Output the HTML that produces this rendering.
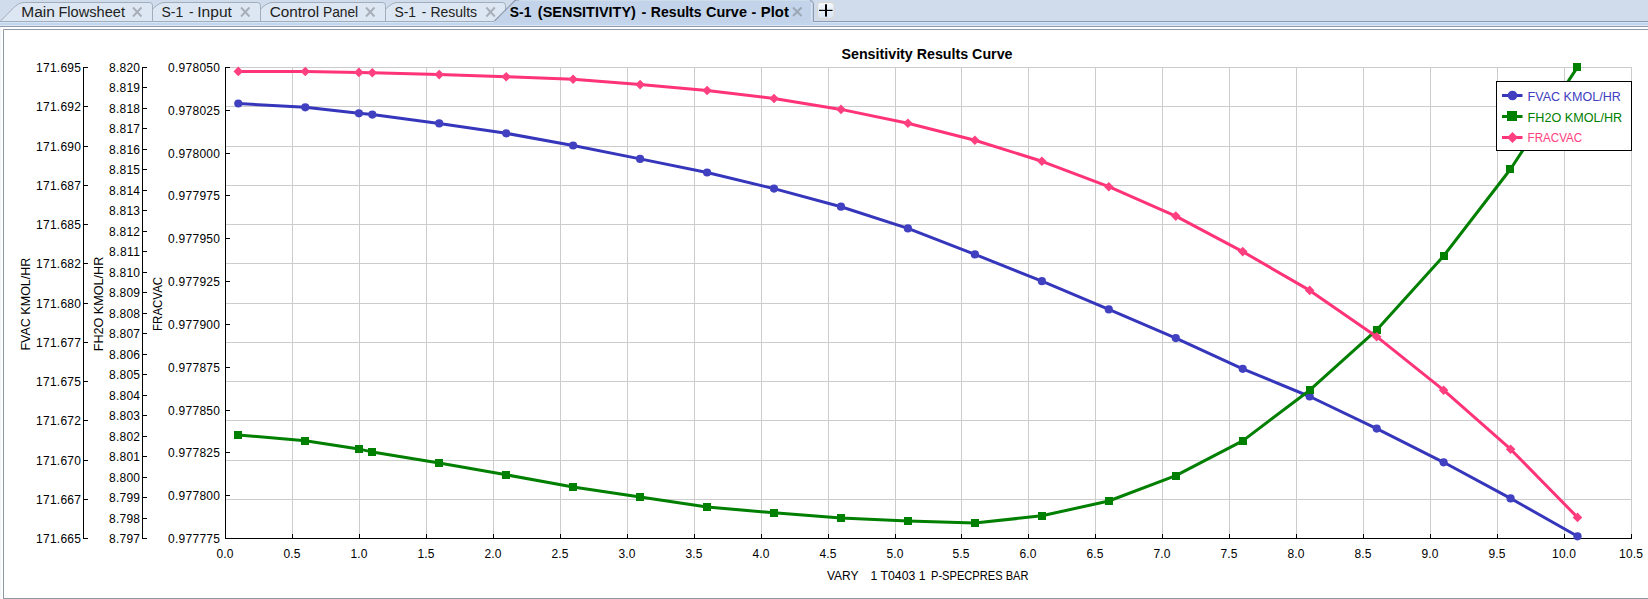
<!DOCTYPE html><html><head><meta charset="utf-8"><title>Sensitivity Results Curve</title><style>
html,body{margin:0;padding:0;width:1648px;height:599px;overflow:hidden;background:#fff}
svg{position:absolute;left:0;top:0;display:block}
text{font-family:"Liberation Sans", sans-serif}
</style></head><body>
<svg width="1648" height="599" viewBox="0 0 1648 599">
<rect x="0" y="0" width="1648" height="21" fill="#d0dcec"/>
<rect x="0" y="21" width="1648" height="1" fill="#8e9bae"/>
<rect x="0" y="22" width="1648" height="1" fill="#d6e5f5"/>
<rect x="0" y="23" width="1648" height="2" fill="#c2d7ee"/>
<rect x="0" y="25" width="1648" height="1" fill="#dfe8f2"/>
<rect x="0" y="26" width="1648" height="1" fill="#8e9bae"/>
<rect x="0" y="27" width="1648" height="572" fill="#ffffff"/>
<rect x="0" y="27" width="1" height="572" fill="#f3f5f8"/>
<rect x="1" y="27" width="1" height="572" fill="#f8f9fb"/>
<path d="M3.5 599 V29.5 H1648" fill="none" stroke="#8e99a8" stroke-width="1"/>
<rect x="3" y="598" width="1645" height="1" fill="#8e99a8"/>
<path d="M373.5 21.5 L384.5 10.5 C388.5 6.0 392.5 2.5 398.0 2.5 H502.5 Q505.5 2.5 505.5 5.5 V21.5 Z" fill="#dde7f3" stroke="#a2adbb" stroke-width="1"/>
<path d="M248.5 21.5 L259.5 10.5 C263.5 6.0 267.5 2.5 273.0 2.5 H382.5 Q385.5 2.5 385.5 5.5 V21.5 Z" fill="#dde7f3" stroke="#a2adbb" stroke-width="1"/>
<path d="M140.5 21.5 L151.5 10.5 C155.5 6.0 159.5 2.5 165.0 2.5 H257.5 Q260.5 2.5 260.5 5.5 V21.5 Z" fill="#dde7f3" stroke="#a2adbb" stroke-width="1"/>
<path d="M0.0 21.5 L11.0 10.5 C15.0 6.0 19.0 2.5 24.5 2.5 H149.5 Q152.5 2.5 152.5 5.5 V21.5 Z" fill="#dde7f3" stroke="#a2adbb" stroke-width="1"/>
<text x="21.29" y="17" font-size="15.4" fill="#222" textLength="33.59" lengthAdjust="spacingAndGlyphs">Main</text>
<text x="58.46" y="17" font-size="15.4" fill="#222" textLength="66.53" lengthAdjust="spacingAndGlyphs">Flowsheet</text>
<text x="161.47" y="17" font-size="15.4" fill="#222" textLength="21.71" lengthAdjust="spacingAndGlyphs">S-1</text>
<text x="188.90" y="17" font-size="15.4" fill="#222" textLength="4.55" lengthAdjust="spacingAndGlyphs">-</text>
<text x="197.30" y="17" font-size="15.4" fill="#222" textLength="34.56" lengthAdjust="spacingAndGlyphs">Input</text>
<text x="269.81" y="17" font-size="15.4" fill="#222" textLength="49.34" lengthAdjust="spacingAndGlyphs">Control</text>
<text x="322.94" y="17" font-size="15.4" fill="#222" textLength="35.25" lengthAdjust="spacingAndGlyphs">Panel</text>
<text x="394.46" y="17" font-size="15.4" fill="#222" textLength="21.61" lengthAdjust="spacingAndGlyphs">S-1</text>
<text x="421.67" y="17" font-size="15.4" fill="#222" textLength="4.54" lengthAdjust="spacingAndGlyphs">-</text>
<text x="430.39" y="17" font-size="15.4" fill="#222" textLength="46.69" lengthAdjust="spacingAndGlyphs">Results</text>
<path d="M133.0 7.5 L141.5 16.5 M141.5 7.5 L133.0 16.5" stroke="#a7aeb7" stroke-width="1.9" fill="none"/>
<path d="M241.0 7.5 L249.5 16.5 M249.5 7.5 L241.0 16.5" stroke="#a7aeb7" stroke-width="1.9" fill="none"/>
<path d="M366.0 7.5 L374.5 16.5 M374.5 7.5 L366.0 16.5" stroke="#a7aeb7" stroke-width="1.9" fill="none"/>
<path d="M486.3 7.5 L494.8 16.5 M494.8 7.5 L486.3 16.5" stroke="#a7aeb7" stroke-width="1.9" fill="none"/>
<path d="M494 22.5 L516 0 H809 Q813 0 813 4 V22.5 Z" fill="#c2d3ea" stroke="none"/>
<rect x="520" y="0" width="289" height="1" fill="#cfdcec"/>
<path d="M494 21.5 L515 0.5 Q516.5 -0.5 519 0" fill="none" stroke="#8e9bae" stroke-width="1.2"/>
<path d="M810 0.5 Q813.5 0.5 813.5 4 V21.5 H1648" fill="none" stroke="#8e9bae" stroke-width="1"/>
<rect x="811" y="3" width="1" height="19" fill="#d8e4f2"/>
<rect x="494" y="21" width="318" height="2" fill="#c2d3ea"/>
<text x="509.87" y="17" font-size="15.2" font-weight="bold" fill="#000" textLength="21.57" lengthAdjust="spacingAndGlyphs">S-1</text>
<text x="537.85" y="17" font-size="15.2" font-weight="bold" fill="#000" textLength="98.05" lengthAdjust="spacingAndGlyphs">(SENSITIVITY)</text>
<text x="641.46" y="17" font-size="15.2" font-weight="bold" fill="#000" textLength="4.82" lengthAdjust="spacingAndGlyphs">-</text>
<text x="650.86" y="17" font-size="15.2" font-weight="bold" fill="#000" textLength="50.76" lengthAdjust="spacingAndGlyphs">Results</text>
<text x="705.99" y="17" font-size="15.2" font-weight="bold" fill="#000" textLength="40.97" lengthAdjust="spacingAndGlyphs">Curve</text>
<text x="751.42" y="17" font-size="15.2" font-weight="bold" fill="#000" textLength="4.73" lengthAdjust="spacingAndGlyphs">-</text>
<text x="760.86" y="17" font-size="15.2" font-weight="bold" fill="#000" textLength="27.97" lengthAdjust="spacingAndGlyphs">Plot</text>
<path d="M793 7.5 L801.5 16 M801.5 7.5 L793 16" stroke="#9ca7b5" stroke-width="1.9" fill="none"/>
<defs><linearGradient id="pg" x1="0" y1="0" x2="0" y2="1"><stop offset="0" stop-color="#f4f8fd"/><stop offset="1" stop-color="#d6e4f4"/></linearGradient></defs>
<rect x="817.5" y="2.5" width="16.5" height="16" rx="3" fill="url(#pg)" stroke="#ddd6cc" stroke-width="1"/>
<rect x="819" y="9.8" width="13.5" height="1.2" fill="#000"/>
<rect x="825" y="4.3" width="2" height="12.3" fill="#000"/>
<rect x="292" y="67" width="1" height="471" fill="#cccccc"/>
<rect x="359" y="67" width="1" height="471" fill="#cccccc"/>
<rect x="426" y="67" width="1" height="471" fill="#cccccc"/>
<rect x="493" y="67" width="1" height="471" fill="#cccccc"/>
<rect x="560" y="67" width="1" height="471" fill="#cccccc"/>
<rect x="627" y="67" width="1" height="471" fill="#cccccc"/>
<rect x="694" y="67" width="1" height="471" fill="#cccccc"/>
<rect x="761" y="67" width="1" height="471" fill="#cccccc"/>
<rect x="828" y="67" width="1" height="471" fill="#cccccc"/>
<rect x="895" y="67" width="1" height="471" fill="#cccccc"/>
<rect x="961" y="67" width="1" height="471" fill="#cccccc"/>
<rect x="1028" y="67" width="1" height="471" fill="#cccccc"/>
<rect x="1095" y="67" width="1" height="471" fill="#cccccc"/>
<rect x="1162" y="67" width="1" height="471" fill="#cccccc"/>
<rect x="1229" y="67" width="1" height="471" fill="#cccccc"/>
<rect x="1296" y="67" width="1" height="471" fill="#cccccc"/>
<rect x="1363" y="67" width="1" height="471" fill="#cccccc"/>
<rect x="1430" y="67" width="1" height="471" fill="#cccccc"/>
<rect x="1497" y="67" width="1" height="471" fill="#cccccc"/>
<rect x="1564" y="67" width="1" height="471" fill="#cccccc"/>
<rect x="1631" y="67" width="1" height="471" fill="#cccccc"/>
<rect x="226" y="67" width="1406" height="1" fill="#cccccc"/>
<rect x="226" y="106" width="1406" height="1" fill="#cccccc"/>
<rect x="226" y="146" width="1406" height="1" fill="#cccccc"/>
<rect x="226" y="185" width="1406" height="1" fill="#cccccc"/>
<rect x="226" y="224" width="1406" height="1" fill="#cccccc"/>
<rect x="226" y="263" width="1406" height="1" fill="#cccccc"/>
<rect x="226" y="303" width="1406" height="1" fill="#cccccc"/>
<rect x="226" y="342" width="1406" height="1" fill="#cccccc"/>
<rect x="226" y="381" width="1406" height="1" fill="#cccccc"/>
<rect x="226" y="420" width="1406" height="1" fill="#cccccc"/>
<rect x="226" y="460" width="1406" height="1" fill="#cccccc"/>
<rect x="226" y="499" width="1406" height="1" fill="#cccccc"/>
<rect x="225" y="67" width="1" height="472" fill="#000"/>
<rect x="225" y="538" width="1407" height="1" fill="#000"/>
<rect x="225" y="534" width="1" height="5" fill="#000"/>
<rect x="292" y="534" width="1" height="5" fill="#000"/>
<rect x="359" y="534" width="1" height="5" fill="#000"/>
<rect x="426" y="534" width="1" height="5" fill="#000"/>
<rect x="493" y="534" width="1" height="5" fill="#000"/>
<rect x="560" y="534" width="1" height="5" fill="#000"/>
<rect x="627" y="534" width="1" height="5" fill="#000"/>
<rect x="694" y="534" width="1" height="5" fill="#000"/>
<rect x="761" y="534" width="1" height="5" fill="#000"/>
<rect x="828" y="534" width="1" height="5" fill="#000"/>
<rect x="895" y="534" width="1" height="5" fill="#000"/>
<rect x="961" y="534" width="1" height="5" fill="#000"/>
<rect x="1028" y="534" width="1" height="5" fill="#000"/>
<rect x="1095" y="534" width="1" height="5" fill="#000"/>
<rect x="1162" y="534" width="1" height="5" fill="#000"/>
<rect x="1229" y="534" width="1" height="5" fill="#000"/>
<rect x="1296" y="534" width="1" height="5" fill="#000"/>
<rect x="1363" y="534" width="1" height="5" fill="#000"/>
<rect x="1430" y="534" width="1" height="5" fill="#000"/>
<rect x="1497" y="534" width="1" height="5" fill="#000"/>
<rect x="1564" y="534" width="1" height="5" fill="#000"/>
<rect x="1631" y="534" width="1" height="5" fill="#000"/>
<rect x="83" y="67" width="1" height="472" fill="#000"/>
<rect x="84" y="67" width="4" height="1" fill="#000"/>
<text x="81.0" y="71.8" font-size="12" text-anchor="end" fill="#000" textLength="45" lengthAdjust="spacing">171.695</text>
<rect x="84" y="106" width="4" height="1" fill="#000"/>
<text x="81.0" y="110.8" font-size="12" text-anchor="end" fill="#000" textLength="45" lengthAdjust="spacing">171.692</text>
<rect x="84" y="146" width="4" height="1" fill="#000"/>
<text x="81.0" y="150.8" font-size="12" text-anchor="end" fill="#000" textLength="45" lengthAdjust="spacing">171.690</text>
<rect x="84" y="185" width="4" height="1" fill="#000"/>
<text x="81.0" y="189.8" font-size="12" text-anchor="end" fill="#000" textLength="45" lengthAdjust="spacing">171.687</text>
<rect x="84" y="224" width="4" height="1" fill="#000"/>
<text x="81.0" y="228.8" font-size="12" text-anchor="end" fill="#000" textLength="45" lengthAdjust="spacing">171.685</text>
<rect x="84" y="263" width="4" height="1" fill="#000"/>
<text x="81.0" y="267.8" font-size="12" text-anchor="end" fill="#000" textLength="45" lengthAdjust="spacing">171.682</text>
<rect x="84" y="303" width="4" height="1" fill="#000"/>
<text x="81.0" y="307.8" font-size="12" text-anchor="end" fill="#000" textLength="45" lengthAdjust="spacing">171.680</text>
<rect x="84" y="342" width="4" height="1" fill="#000"/>
<text x="81.0" y="346.8" font-size="12" text-anchor="end" fill="#000" textLength="45" lengthAdjust="spacing">171.677</text>
<rect x="84" y="381" width="4" height="1" fill="#000"/>
<text x="81.0" y="385.8" font-size="12" text-anchor="end" fill="#000" textLength="45" lengthAdjust="spacing">171.675</text>
<rect x="84" y="420" width="4" height="1" fill="#000"/>
<text x="81.0" y="424.8" font-size="12" text-anchor="end" fill="#000" textLength="45" lengthAdjust="spacing">171.672</text>
<rect x="84" y="460" width="4" height="1" fill="#000"/>
<text x="81.0" y="464.8" font-size="12" text-anchor="end" fill="#000" textLength="45" lengthAdjust="spacing">171.670</text>
<rect x="84" y="499" width="4" height="1" fill="#000"/>
<text x="81.0" y="503.8" font-size="12" text-anchor="end" fill="#000" textLength="45" lengthAdjust="spacing">171.667</text>
<rect x="84" y="538" width="4" height="1" fill="#000"/>
<text x="81.0" y="542.8" font-size="12" text-anchor="end" fill="#000" textLength="45" lengthAdjust="spacing">171.665</text>
<rect x="142" y="67" width="1" height="472" fill="#000"/>
<rect x="143" y="67" width="4" height="1" fill="#000"/>
<text x="140.0" y="71.8" font-size="12" text-anchor="end" fill="#000" textLength="31" lengthAdjust="spacing">8.820</text>
<rect x="143" y="87" width="4" height="1" fill="#000"/>
<text x="140.0" y="91.8" font-size="12" text-anchor="end" fill="#000" textLength="31" lengthAdjust="spacing">8.819</text>
<rect x="143" y="108" width="4" height="1" fill="#000"/>
<text x="140.0" y="112.8" font-size="12" text-anchor="end" fill="#000" textLength="31" lengthAdjust="spacing">8.818</text>
<rect x="143" y="128" width="4" height="1" fill="#000"/>
<text x="140.0" y="132.8" font-size="12" text-anchor="end" fill="#000" textLength="31" lengthAdjust="spacing">8.817</text>
<rect x="143" y="149" width="4" height="1" fill="#000"/>
<text x="140.0" y="153.8" font-size="12" text-anchor="end" fill="#000" textLength="31" lengthAdjust="spacing">8.816</text>
<rect x="143" y="169" width="4" height="1" fill="#000"/>
<text x="140.0" y="173.8" font-size="12" text-anchor="end" fill="#000" textLength="31" lengthAdjust="spacing">8.815</text>
<rect x="143" y="190" width="4" height="1" fill="#000"/>
<text x="140.0" y="194.8" font-size="12" text-anchor="end" fill="#000" textLength="31" lengthAdjust="spacing">8.814</text>
<rect x="143" y="210" width="4" height="1" fill="#000"/>
<text x="140.0" y="214.8" font-size="12" text-anchor="end" fill="#000" textLength="31" lengthAdjust="spacing">8.813</text>
<rect x="143" y="231" width="4" height="1" fill="#000"/>
<text x="140.0" y="235.8" font-size="12" text-anchor="end" fill="#000" textLength="31" lengthAdjust="spacing">8.812</text>
<rect x="143" y="251" width="4" height="1" fill="#000"/>
<text x="140.0" y="255.8" font-size="12" text-anchor="end" fill="#000" textLength="31" lengthAdjust="spacing">8.811</text>
<rect x="143" y="272" width="4" height="1" fill="#000"/>
<text x="140.0" y="276.8" font-size="12" text-anchor="end" fill="#000" textLength="31" lengthAdjust="spacing">8.810</text>
<rect x="143" y="292" width="4" height="1" fill="#000"/>
<text x="140.0" y="296.8" font-size="12" text-anchor="end" fill="#000" textLength="31" lengthAdjust="spacing">8.809</text>
<rect x="143" y="313" width="4" height="1" fill="#000"/>
<text x="140.0" y="317.8" font-size="12" text-anchor="end" fill="#000" textLength="31" lengthAdjust="spacing">8.808</text>
<rect x="143" y="333" width="4" height="1" fill="#000"/>
<text x="140.0" y="337.8" font-size="12" text-anchor="end" fill="#000" textLength="31" lengthAdjust="spacing">8.807</text>
<rect x="143" y="354" width="4" height="1" fill="#000"/>
<text x="140.0" y="358.8" font-size="12" text-anchor="end" fill="#000" textLength="31" lengthAdjust="spacing">8.806</text>
<rect x="143" y="374" width="4" height="1" fill="#000"/>
<text x="140.0" y="378.8" font-size="12" text-anchor="end" fill="#000" textLength="31" lengthAdjust="spacing">8.805</text>
<rect x="143" y="395" width="4" height="1" fill="#000"/>
<text x="140.0" y="399.8" font-size="12" text-anchor="end" fill="#000" textLength="31" lengthAdjust="spacing">8.804</text>
<rect x="143" y="415" width="4" height="1" fill="#000"/>
<text x="140.0" y="419.8" font-size="12" text-anchor="end" fill="#000" textLength="31" lengthAdjust="spacing">8.803</text>
<rect x="143" y="436" width="4" height="1" fill="#000"/>
<text x="140.0" y="440.8" font-size="12" text-anchor="end" fill="#000" textLength="31" lengthAdjust="spacing">8.802</text>
<rect x="143" y="456" width="4" height="1" fill="#000"/>
<text x="140.0" y="460.8" font-size="12" text-anchor="end" fill="#000" textLength="31" lengthAdjust="spacing">8.801</text>
<rect x="143" y="477" width="4" height="1" fill="#000"/>
<text x="140.0" y="481.8" font-size="12" text-anchor="end" fill="#000" textLength="31" lengthAdjust="spacing">8.800</text>
<rect x="143" y="497" width="4" height="1" fill="#000"/>
<text x="140.0" y="501.8" font-size="12" text-anchor="end" fill="#000" textLength="31" lengthAdjust="spacing">8.799</text>
<rect x="143" y="518" width="4" height="1" fill="#000"/>
<text x="140.0" y="522.8" font-size="12" text-anchor="end" fill="#000" textLength="31" lengthAdjust="spacing">8.798</text>
<rect x="143" y="538" width="4" height="1" fill="#000"/>
<text x="140.0" y="542.8" font-size="12" text-anchor="end" fill="#000" textLength="31" lengthAdjust="spacing">8.797</text>
<rect x="226" y="67" width="4" height="1" fill="#000"/>
<text x="220.0" y="71.8" font-size="12" text-anchor="end" fill="#000" textLength="52" lengthAdjust="spacing">0.978050</text>
<rect x="226" y="110" width="4" height="1" fill="#000"/>
<text x="220.0" y="114.8" font-size="12" text-anchor="end" fill="#000" textLength="52" lengthAdjust="spacing">0.978025</text>
<rect x="226" y="153" width="4" height="1" fill="#000"/>
<text x="220.0" y="157.8" font-size="12" text-anchor="end" fill="#000" textLength="52" lengthAdjust="spacing">0.978000</text>
<rect x="226" y="195" width="4" height="1" fill="#000"/>
<text x="220.0" y="199.8" font-size="12" text-anchor="end" fill="#000" textLength="52" lengthAdjust="spacing">0.977975</text>
<rect x="226" y="238" width="4" height="1" fill="#000"/>
<text x="220.0" y="242.8" font-size="12" text-anchor="end" fill="#000" textLength="52" lengthAdjust="spacing">0.977950</text>
<rect x="226" y="281" width="4" height="1" fill="#000"/>
<text x="220.0" y="285.8" font-size="12" text-anchor="end" fill="#000" textLength="52" lengthAdjust="spacing">0.977925</text>
<rect x="226" y="324" width="4" height="1" fill="#000"/>
<text x="220.0" y="328.8" font-size="12" text-anchor="end" fill="#000" textLength="52" lengthAdjust="spacing">0.977900</text>
<rect x="226" y="367" width="4" height="1" fill="#000"/>
<text x="220.0" y="371.8" font-size="12" text-anchor="end" fill="#000" textLength="52" lengthAdjust="spacing">0.977875</text>
<rect x="226" y="410" width="4" height="1" fill="#000"/>
<text x="220.0" y="414.8" font-size="12" text-anchor="end" fill="#000" textLength="52" lengthAdjust="spacing">0.977850</text>
<rect x="226" y="452" width="4" height="1" fill="#000"/>
<text x="220.0" y="456.8" font-size="12" text-anchor="end" fill="#000" textLength="52" lengthAdjust="spacing">0.977825</text>
<rect x="226" y="495" width="4" height="1" fill="#000"/>
<text x="220.0" y="499.8" font-size="12" text-anchor="end" fill="#000" textLength="52" lengthAdjust="spacing">0.977800</text>
<rect x="226" y="538" width="4" height="1" fill="#000"/>
<text x="220.0" y="542.8" font-size="12" text-anchor="end" fill="#000" textLength="52" lengthAdjust="spacing">0.977775</text>
<text x="225.0" y="558" font-size="12" text-anchor="middle" fill="#000" textLength="17" lengthAdjust="spacing">0.0</text>
<text x="292.0" y="558" font-size="12" text-anchor="middle" fill="#000" textLength="17" lengthAdjust="spacing">0.5</text>
<text x="359.0" y="558" font-size="12" text-anchor="middle" fill="#000" textLength="17" lengthAdjust="spacing">1.0</text>
<text x="426.0" y="558" font-size="12" text-anchor="middle" fill="#000" textLength="17" lengthAdjust="spacing">1.5</text>
<text x="493.0" y="558" font-size="12" text-anchor="middle" fill="#000" textLength="17" lengthAdjust="spacing">2.0</text>
<text x="560.0" y="558" font-size="12" text-anchor="middle" fill="#000" textLength="17" lengthAdjust="spacing">2.5</text>
<text x="627.0" y="558" font-size="12" text-anchor="middle" fill="#000" textLength="17" lengthAdjust="spacing">3.0</text>
<text x="694.0" y="558" font-size="12" text-anchor="middle" fill="#000" textLength="17" lengthAdjust="spacing">3.5</text>
<text x="761.0" y="558" font-size="12" text-anchor="middle" fill="#000" textLength="17" lengthAdjust="spacing">4.0</text>
<text x="828.0" y="558" font-size="12" text-anchor="middle" fill="#000" textLength="17" lengthAdjust="spacing">4.5</text>
<text x="895.0" y="558" font-size="12" text-anchor="middle" fill="#000" textLength="17" lengthAdjust="spacing">5.0</text>
<text x="961.0" y="558" font-size="12" text-anchor="middle" fill="#000" textLength="17" lengthAdjust="spacing">5.5</text>
<text x="1028.0" y="558" font-size="12" text-anchor="middle" fill="#000" textLength="17" lengthAdjust="spacing">6.0</text>
<text x="1095.0" y="558" font-size="12" text-anchor="middle" fill="#000" textLength="17" lengthAdjust="spacing">6.5</text>
<text x="1162.0" y="558" font-size="12" text-anchor="middle" fill="#000" textLength="17" lengthAdjust="spacing">7.0</text>
<text x="1229.0" y="558" font-size="12" text-anchor="middle" fill="#000" textLength="17" lengthAdjust="spacing">7.5</text>
<text x="1296.0" y="558" font-size="12" text-anchor="middle" fill="#000" textLength="17" lengthAdjust="spacing">8.0</text>
<text x="1363.0" y="558" font-size="12" text-anchor="middle" fill="#000" textLength="17" lengthAdjust="spacing">8.5</text>
<text x="1430.0" y="558" font-size="12" text-anchor="middle" fill="#000" textLength="17" lengthAdjust="spacing">9.0</text>
<text x="1497.0" y="558" font-size="12" text-anchor="middle" fill="#000" textLength="17" lengthAdjust="spacing">9.5</text>
<text x="1564.0" y="558" font-size="12" text-anchor="middle" fill="#000" textLength="24" lengthAdjust="spacing">10.0</text>
<text x="1631.0" y="558" font-size="12" text-anchor="middle" fill="#000" textLength="24" lengthAdjust="spacing">10.5</text>
<text x="827" y="580" font-size="12" fill="#000">VARY</text>
<text x="870.5" y="580" font-size="12" fill="#000" textLength="55" lengthAdjust="spacingAndGlyphs">1 T0403 1</text>
<text x="931" y="580" font-size="12" fill="#000" textLength="97.5" lengthAdjust="spacingAndGlyphs">P-SPECPRES BAR</text>
<text transform="translate(30,304.1) rotate(-90)" font-size="12" text-anchor="middle" fill="#000" textLength="93" lengthAdjust="spacingAndGlyphs">FVAC KMOL/HR</text>
<text transform="translate(103,304) rotate(-90)" font-size="12" text-anchor="middle" fill="#000" textLength="94.5" lengthAdjust="spacingAndGlyphs">FH2O KMOL/HR</text>
<text transform="translate(161.8,303.9) rotate(-90)" font-size="12" text-anchor="middle" fill="#000" textLength="54" lengthAdjust="spacingAndGlyphs">FRACVAC</text>
<text x="927" y="59" font-size="14" font-weight="bold" text-anchor="middle" fill="#000" textLength="171" lengthAdjust="spacingAndGlyphs">Sensitivity Results Curve</text>
<polyline points="238.3,103.5 305.3,107.3 358.9,113.3 372.3,114.6 439.2,123.4 506.2,133.3 573.1,145.5 640.1,158.9 707.1,172.5 774.0,188.6 841.0,206.7 907.9,228.4 974.9,254.4 1041.9,281.2 1108.8,309.4 1175.8,338.1 1242.7,368.8 1309.7,396.5 1376.7,428.6 1443.6,462.3 1510.6,498.4 1577.5,536.3" fill="none" stroke="#3636bc" stroke-width="3" stroke-linejoin="round"/>
<circle cx="238.3" cy="103.5" r="4.1" fill="#4040c0"/>
<circle cx="305.3" cy="107.3" r="4.1" fill="#4040c0"/>
<circle cx="358.9" cy="113.3" r="4.1" fill="#4040c0"/>
<circle cx="372.3" cy="114.6" r="4.1" fill="#4040c0"/>
<circle cx="439.2" cy="123.4" r="4.1" fill="#4040c0"/>
<circle cx="506.2" cy="133.3" r="4.1" fill="#4040c0"/>
<circle cx="573.1" cy="145.5" r="4.1" fill="#4040c0"/>
<circle cx="640.1" cy="158.9" r="4.1" fill="#4040c0"/>
<circle cx="707.1" cy="172.5" r="4.1" fill="#4040c0"/>
<circle cx="774.0" cy="188.6" r="4.1" fill="#4040c0"/>
<circle cx="841.0" cy="206.7" r="4.1" fill="#4040c0"/>
<circle cx="907.9" cy="228.4" r="4.1" fill="#4040c0"/>
<circle cx="974.9" cy="254.4" r="4.1" fill="#4040c0"/>
<circle cx="1041.9" cy="281.2" r="4.1" fill="#4040c0"/>
<circle cx="1108.8" cy="309.4" r="4.1" fill="#4040c0"/>
<circle cx="1175.8" cy="338.1" r="4.1" fill="#4040c0"/>
<circle cx="1242.7" cy="368.8" r="4.1" fill="#4040c0"/>
<circle cx="1309.7" cy="396.5" r="4.1" fill="#4040c0"/>
<circle cx="1376.7" cy="428.6" r="4.1" fill="#4040c0"/>
<circle cx="1443.6" cy="462.3" r="4.1" fill="#4040c0"/>
<circle cx="1510.6" cy="498.4" r="4.1" fill="#4040c0"/>
<circle cx="1577.5" cy="536.3" r="4.1" fill="#4040c0"/>
<polyline points="238.3,435.0 305.3,440.8 358.9,449.1 372.3,451.9 439.2,462.9 506.2,474.8 573.1,486.9 640.1,497.0 707.1,507.0 774.0,512.8 841.0,517.9 907.9,521.0 974.9,523.0 1041.9,515.8 1108.8,501.0 1175.8,475.7 1242.7,440.9 1309.7,390.2 1376.7,329.9 1443.6,256.0 1510.6,169.0 1577.5,67.1" fill="none" stroke="#007f00" stroke-width="3" stroke-linejoin="round"/>
<rect x="234" y="431" width="8" height="8" fill="#008000"/>
<rect x="301" y="437" width="8" height="8" fill="#008000"/>
<rect x="355" y="445" width="8" height="8" fill="#008000"/>
<rect x="368" y="448" width="8" height="8" fill="#008000"/>
<rect x="435" y="459" width="8" height="8" fill="#008000"/>
<rect x="502" y="471" width="8" height="8" fill="#008000"/>
<rect x="569" y="483" width="8" height="8" fill="#008000"/>
<rect x="636" y="493" width="8" height="8" fill="#008000"/>
<rect x="703" y="503" width="8" height="8" fill="#008000"/>
<rect x="770" y="509" width="8" height="8" fill="#008000"/>
<rect x="837" y="514" width="8" height="8" fill="#008000"/>
<rect x="904" y="517" width="8" height="8" fill="#008000"/>
<rect x="971" y="519" width="8" height="8" fill="#008000"/>
<rect x="1038" y="512" width="8" height="8" fill="#008000"/>
<rect x="1105" y="497" width="8" height="8" fill="#008000"/>
<rect x="1172" y="472" width="8" height="8" fill="#008000"/>
<rect x="1239" y="437" width="8" height="8" fill="#008000"/>
<rect x="1306" y="386" width="8" height="8" fill="#008000"/>
<rect x="1373" y="326" width="8" height="8" fill="#008000"/>
<rect x="1440" y="252" width="8" height="8" fill="#008000"/>
<rect x="1506" y="165" width="8" height="8" fill="#008000"/>
<rect x="1573" y="63" width="8" height="8" fill="#008000"/>
<polyline points="238.3,71.4 305.3,71.5 358.9,72.4 372.3,72.7 439.2,74.6 506.2,76.7 573.1,79.2 640.1,84.6 707.1,90.5 774.0,98.5 841.0,109.4 907.9,123.3 974.9,140.2 1041.9,161.3 1108.8,186.7 1175.8,216.1 1242.7,251.6 1309.7,290.4 1376.7,336.7 1443.6,390.2 1510.6,449.2 1577.5,517.4" fill="none" stroke="#ff3378" stroke-width="3" stroke-linejoin="round"/>
<path d="M233.5 71.4 L238.3 66.6 L243.1 71.4 L238.3 76.2 Z" fill="#ff4080"/>
<path d="M300.5 71.5 L305.3 66.7 L310.1 71.5 L305.3 76.3 Z" fill="#ff4080"/>
<path d="M354.1 72.4 L358.9 67.6 L363.7 72.4 L358.9 77.2 Z" fill="#ff4080"/>
<path d="M367.5 72.7 L372.3 67.9 L377.1 72.7 L372.3 77.5 Z" fill="#ff4080"/>
<path d="M434.4 74.6 L439.2 69.8 L444.0 74.6 L439.2 79.4 Z" fill="#ff4080"/>
<path d="M501.4 76.7 L506.2 71.9 L511.0 76.7 L506.2 81.5 Z" fill="#ff4080"/>
<path d="M568.3 79.2 L573.1 74.4 L577.9 79.2 L573.1 84.0 Z" fill="#ff4080"/>
<path d="M635.3 84.6 L640.1 79.8 L644.9 84.6 L640.1 89.4 Z" fill="#ff4080"/>
<path d="M702.3 90.5 L707.1 85.7 L711.9 90.5 L707.1 95.3 Z" fill="#ff4080"/>
<path d="M769.2 98.5 L774.0 93.7 L778.8 98.5 L774.0 103.3 Z" fill="#ff4080"/>
<path d="M836.2 109.4 L841.0 104.6 L845.8 109.4 L841.0 114.2 Z" fill="#ff4080"/>
<path d="M903.1 123.3 L907.9 118.5 L912.7 123.3 L907.9 128.1 Z" fill="#ff4080"/>
<path d="M970.1 140.2 L974.9 135.4 L979.7 140.2 L974.9 145.0 Z" fill="#ff4080"/>
<path d="M1037.1 161.3 L1041.9 156.5 L1046.7 161.3 L1041.9 166.1 Z" fill="#ff4080"/>
<path d="M1104.0 186.7 L1108.8 181.9 L1113.6 186.7 L1108.8 191.5 Z" fill="#ff4080"/>
<path d="M1171.0 216.1 L1175.8 211.3 L1180.6 216.1 L1175.8 220.9 Z" fill="#ff4080"/>
<path d="M1237.9 251.6 L1242.7 246.8 L1247.5 251.6 L1242.7 256.4 Z" fill="#ff4080"/>
<path d="M1304.9 290.4 L1309.7 285.6 L1314.5 290.4 L1309.7 295.2 Z" fill="#ff4080"/>
<path d="M1371.9 336.7 L1376.7 331.9 L1381.5 336.7 L1376.7 341.5 Z" fill="#ff4080"/>
<path d="M1438.8 390.2 L1443.6 385.4 L1448.4 390.2 L1443.6 395.0 Z" fill="#ff4080"/>
<path d="M1505.8 449.2 L1510.6 444.4 L1515.4 449.2 L1510.6 454.0 Z" fill="#ff4080"/>
<path d="M1572.7 517.4 L1577.5 512.6 L1582.3 517.4 L1577.5 522.2 Z" fill="#ff4080"/>
<rect x="1496.5" y="81.5" width="135" height="69" fill="#fff" stroke="#000" stroke-width="1"/>
<rect x="1502" y="94" width="20.5" height="3" fill="#3636bc"/>
<circle cx="1512.5" cy="95.5" r="4.8" fill="#4040c0"/>
<text x="1527.6" y="101.1" font-size="12" fill="#4040c0" textLength="93.2" lengthAdjust="spacingAndGlyphs">FVAC KMOL/HR</text>
<rect x="1502" y="115" width="20.5" height="3" fill="#007f00"/>
<rect x="1507" y="111" width="10" height="10" fill="#008000"/>
<text x="1527.6" y="121.5" font-size="12" fill="#008000" textLength="94.6" lengthAdjust="spacingAndGlyphs">FH2O KMOL/HR</text>
<rect x="1502" y="136" width="20.5" height="3" fill="#ff3378"/>
<path d="M1507 137.5 L1512.5 132.0 L1518 137.5 L1512.5 143.0 Z" fill="#ff4080"/>
<text x="1527.6" y="142.4" font-size="12" fill="#ff4080" textLength="54.6" lengthAdjust="spacingAndGlyphs">FRACVAC</text>
</svg></body></html>
